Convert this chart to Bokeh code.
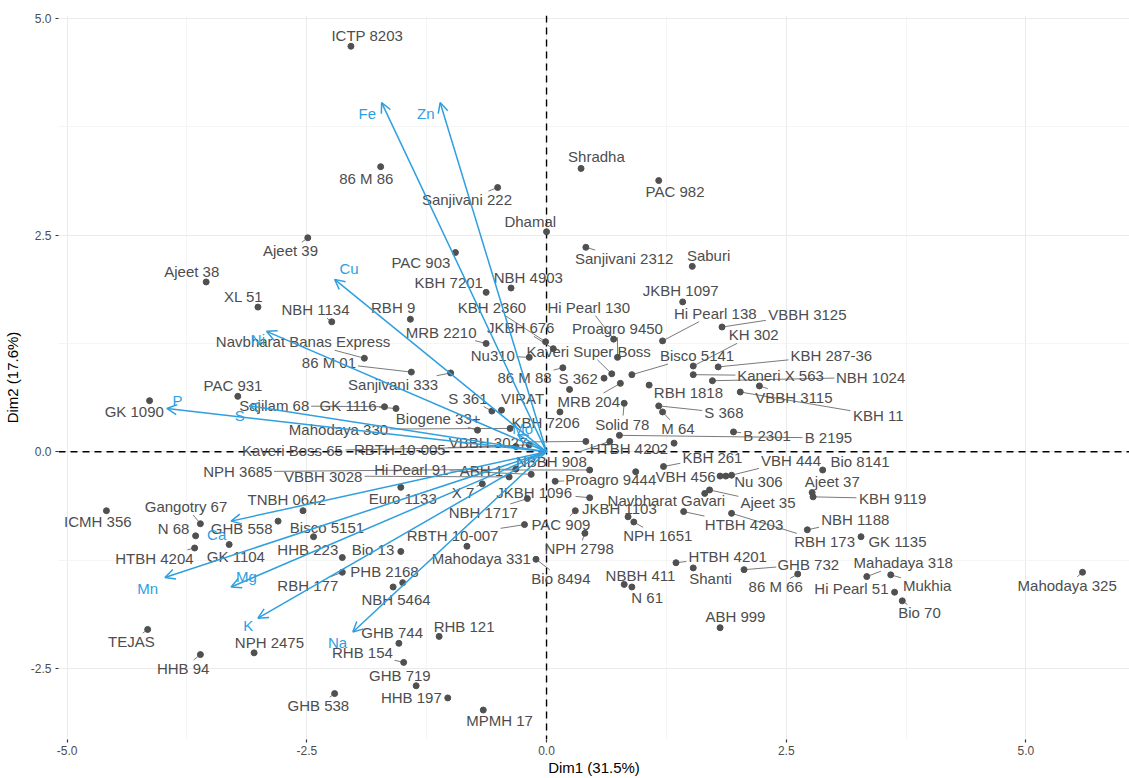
import math
from bokeh.plotting import figure
from bokeh.models import (ColumnDataSource, Arrow, OpenHead, Span, FixedTicker,
                          PrintfTickFormatter, Range1d, LabelSet)
from bokeh.core.properties import value
from bokeh.embed import file_html
from bokeh.resources import INLINE

# ---------------- data ----------------
names = ["ICTP 8203", "86 M 86", "Sanjivani 222", "Dhamal", "Shradha", "PAC 982",
         "Sanjivani 2312", "Saburi", "Ajeet 39", "Ajeet 38", "XL 51", "NBH 1134",
         "RBH 9", "PAC 903", "KBH 7201", "NBH 4903", "MRB 2210", "KBH 2360",
         "Hi Pearl 130", "JKBH 676", "Proagro 9450", "Nu310", "Kaveri Super Boss",
         "Bisco 5141", "86 M 88", "S 362", "MRB 204", "S 361", "VIRAT", "RBH 1818",
         "S 368", "M 64", "Solid 78", "KBH 7206", "Biogene 33+", "Mahodaya 330",
         "VBBH 3027", "Kaveri Boss 65", "RBTH 10-005", "KBH 261", "HTBH 4202",
         "NBBH 908", "B 2301", "B 2195", "VBH 444", "VBH 456", "Nu 306", "Bio 8141",
         "Ajeet 37", "KBH 9119", "Proagro 9444", "Navbharat Gavari", "Ajeet 35",
         "HTBH 4203", "RBH 173", "NBH 1188", "GK 1135", "JKBH 1103", "NPH 1651",
         "JKBH 1096", "NBH 1717", "PAC 909", "RBTH 10-007", "NPH 2798",
         "Mahodaya 331", "Bio 8494", "NBBH 411", "N 61", "HTBH 4201", "Shanti",
         "GHB 732", "86 M 66", "ABH 999", "Hi Pearl 51", "Mahadaya 318", "Mukhia",
         "Bio 70", "Mahodaya 325", "VBBH 3125", "KH 302", "KBH 287-36",
         "Kaneri X 563", "NBH 1024", "VBBH 3115", "KBH 11", "JKBH 1097",
         "Hi Pearl 138", "Navbharat Banas Express", "86 M 01", "Sanjivani 333",
         "PAC 931", "GK 1090", "Sajilam 68", "GK 1116", "NPH 3685", "VBBH 3028",
         "Hi Pearl 91", "ABH 1", "Euro 1133", "X 7", "Gangotry 67", "ICMH 356",
         "N 68", "GHB 558", "HTBH 4204", "GK 1104", "TNBH 0642", "Bisco 5151",
         "HHB 223", "Bio 13", "PHB 2168", "RBH 177", "NBH 5464", "GHB 744",
         "RHB 121", "RHB 154", "GHB 719", "HHB 197", "MPMH 17", "GHB 538", "TEJAS",
         "HHB 94", "NPH 2475", "", ""]

dim1 = [-2.04, -1.73, -0.51, 0.00, 0.36, 1.17,
        0.41, 1.52, -2.49, -3.55, -3.01, -2.24,
        -1.42, -0.95, -0.63, -0.37, -0.63, -0.01,
        0.70, 0.07, 0.74, -0.18, 0.68,
        0.89, 0.17, 0.60, 0.77, -0.57, -0.47, 1.07,
        1.17, 1.21, 0.81, 0.14, -0.72, -0.38,
        0.41, -0.32, -0.18, 1.22, 1.33,
        0.66, 1.95, 0.76, 1.93, 1.81, 1.87, 2.88,
        2.77, 2.78, 0.09, 1.65, 1.70,
        1.43, 1.93, 2.72, 3.28, 0.85, 0.91,
        0.45, -0.20, 0.30, -0.23, 0.40,
        -0.83, -0.11, 0.81, 0.89, 1.35, 1.53,
        2.06, 2.62, 1.81, 3.63, 3.34, 3.59,
        3.71, 5.59, 1.83, 1.53, 1.79,
        1.53, 1.73, 2.22, 2.02, 1.42,
        1.21, -1.90, -1.41, -1.00,
        -3.22, -4.14, -1.69, -1.57, -0.32, -0.39,
        -0.16, 0.45, -1.52, -0.67, -3.61, -4.59,
        -3.66, -2.80, -3.67, -3.31, -2.54, -2.43,
        -2.13, -1.52, -1.50, -2.13, -1.60, -1.54,
        -1.12, -1.49, -1.36, -1.03, -0.66, -2.21, -4.16,
        -3.61, -3.05, 0.24, 0.93]

dim2 = [4.68, 3.29, 3.05, 2.54, 3.27, 3.13,
        2.36, 2.14, 2.47, 1.96, 1.67, 1.50,
        1.53, 2.30, 1.84, 1.89, 1.25, 1.27,
        1.30, 1.19, 1.09, 1.09, 0.90,
        0.89, 0.97, 0.85, 0.79, 0.47, 0.48, 0.77,
        0.53, 0.46, 0.56, 0.46, 0.25, 0.27,
        0.12, 0.06, 0.08, -0.17, 0.10,
        0.12, 0.23, 0.19, -0.27, -0.28, -0.28, -0.21,
        -0.47, -0.52, -0.34, -0.48, -0.44,
        -0.69, -0.71, -0.90, -0.98, -0.75, -0.81,
        -0.53, -0.54, -0.68, -0.84, -0.94,
        -1.09, -1.24, -1.53, -1.56, -1.28, -1.34,
        -1.36, -1.41, -2.03, -1.62, -1.44, -1.42,
        -1.72, -1.39, 1.44, 0.99, 0.98,
        0.89, 0.82, 0.76, 0.69, 1.73,
        1.28, 1.08, 0.92, 0.91,
        0.64, 0.59, 0.52, 0.50, -0.20, -0.29,
        -0.26, -0.21, -0.41, -0.37, -0.83, -0.68,
        -0.97, -0.80, -1.11, -1.07, -0.68, -0.98,
        -1.22, -1.15, -1.51, -1.39, -1.56, -2.21,
        -2.13, -2.43, -2.70, -2.84, -2.98, -2.79, -2.05,
        -2.34, -2.32, 0.72, -0.23]

# where the repelled labels were placed (data units)
label_dim1 = [-1.87, -1.88, -0.83, -0.17, 0.52, 1.34,
              0.81, 1.69, -2.67, -3.70, -3.16, -2.41,
              -1.60, -1.31, -1.02, -0.19, -1.10, -0.57,
              0.44, -0.27, 0.74, -0.56, 0.44,
              1.57, -0.23, 0.33, 0.44, -0.82, -0.25, 1.48,
              1.85, 1.37, 0.79, -0.01, -1.13, -2.17,
              -0.61, -2.65, -1.53, 1.73, 0.86,
              0.05, 2.30, 2.94, 2.55, 1.45, 2.21, 3.27,
              2.98, 3.61, 0.67, 1.25, 2.31,
              2.06, 2.90, 3.22, 3.66, 0.76, 1.16,
              -0.13, -0.66, 0.15, -0.98, 0.34,
              -0.68, 0.15, 0.98, 1.05, 1.89, 1.71,
              2.73, 2.39, 1.97, 3.18, 3.72, 3.97,
              3.89, 5.43, 2.72, 2.16, 2.97,
              2.44, 3.38, 2.58, 3.46, 1.40,
              1.76, -2.54, -2.27, -1.60,
              -3.27, -4.30, -2.84, -2.07, -3.22, -2.33,
              -1.41, -0.68, -1.50, -0.87, -3.76, -4.68,
              -3.89, -3.18, -4.09, -3.24, -2.71, -2.29,
              -2.49, -1.81, -1.69, -2.49, -1.57, -1.61,
              -0.86, -1.92, -1.53, -1.41, -0.49, -2.38, -4.33,
              -3.79, -2.89, 0.24, 0.93]

label_dim2 = [4.80, 3.15, 2.91, 2.66, 3.41, 3.00,
              2.23, 2.26, 2.32, 2.08, 1.79, 1.64,
              1.66, 2.19, 1.95, 2.01, 1.38, 1.67,
              1.67, 1.43, 1.42, 1.11, 1.16,
              1.11, 0.86, 0.85, 0.58, 0.62, 0.61, 0.69,
              0.45, 0.27, 0.32, 0.34, 0.38, 0.26,
              0.11, 0.01, 0.03, -0.06, 0.04,
              -0.11, 0.19, 0.16, -0.10, -0.29, -0.34, -0.11,
              -0.34, -0.54, -0.32, -0.56, -0.59,
              -0.84, -1.04, -0.78, -1.03, -0.65, -0.97,
              -0.47, -0.70, -0.84, -0.97, -1.12,
              -1.23, -1.46, -1.43, -1.68, -1.21, -1.46,
              -1.30, -1.56, -1.90, -1.58, -1.28, -1.54,
              -1.86, -1.54, 1.59, 1.35, 1.11,
              0.88, 0.86, 0.63, 0.42, 1.86,
              1.60, 1.27, 1.03, 0.78,
              0.77, 0.46, 0.53, 0.54, -0.23, -0.28,
              -0.20, -0.21, -0.54, -0.47, -0.63, -0.81,
              -0.89, -0.89, -1.23, -1.21, -0.55, -0.87,
              -1.13, -1.13, -1.38, -1.54, -1.70, -2.08,
              -2.02, -2.32, -2.58, -2.84, -3.10, -2.93, -2.19,
              -2.50, -2.20, 0.72, -0.23]

var_names = ["Fe", "Zn", "Cu", "Ni", "P", "S", "Mo", "Ca", "Mn", "Mg", "K", "Na"]
var_dim1 = [-1.72, -1.11, -2.21, -2.92, -3.96, -3.10, -0.30, -3.29, -3.98, -3.29, -3.01, -2.02]
var_dim2 = [4.03, 4.03, 1.99, 1.39, 0.50, 0.53, 0.20, -0.80, -1.45, -1.56, -1.92, -2.08]
var_label_dim1 = [-1.87, -1.26, -2.06, -3.01, -3.85, -3.20, -0.25, -3.44, -4.16, -3.13, -3.11, -2.18]
var_label_dim2 = [3.90, 3.90, 2.11, 1.30, 0.59, 0.42, 0.27, -0.95, -1.58, -1.44, -2.00, -2.20]

x_ticks = [-5.0, -2.5, 0.0, 2.5, 5.0]
y_ticks = [-2.5, 0.0, 2.5, 5.0]
x_title = "Dim1 (31.5%)"
y_title = "Dim2 (17.6%)"

# ---------------- layout ----------------
W, H = 1129, 778
ML, MR, MT, MB = 57, 0, 15, 36
X0, X1 = -5.09, 6.08
Y0, Y1 = -3.32, 5.035
FONT = "Liberation Sans"
TXT = "#4D4D4D"
BLUE = "#2E9FDF"

p = figure(width=W, height=H, x_range=Range1d(X0, X1), y_range=Range1d(Y0, Y1),
           output_backend="svg", toolbar_location=None,
           min_border_left=ML, min_border_right=MR, min_border_top=MT,
           min_border_bottom=MB)
p.outline_line_color = None
p.background_fill_color = "white"
p.border_fill_color = "white"

def mids(t):
    return [(a + b) / 2 for a, b in zip(t[:-1], t[1:])] + [t[0] - (t[1] - t[0]) / 2, t[-1] + (t[1] - t[0]) / 2]

p.xaxis.ticker = FixedTicker(ticks=x_ticks, minor_ticks=mids(x_ticks))
p.yaxis.ticker = FixedTicker(ticks=y_ticks, minor_ticks=mids(y_ticks))
for ax in (p.xaxis, p.yaxis):
    ax.formatter = PrintfTickFormatter(format="%.1f")
    ax.axis_line_color = None
    ax.major_tick_line_color = "#333333"
    ax.major_tick_line_width = 1.2
    ax.major_tick_in = 0
    ax.major_tick_out = 3
    ax.minor_tick_line_color = None
    ax.major_label_text_font = FONT
    ax.major_label_text_font_size = "12px"
    ax.major_label_text_color = TXT
    ax.axis_label_text_font = FONT
    ax.axis_label_text_font_size = "15px"
    ax.axis_label_text_font_style = "normal"
    ax.axis_label_text_color = "black"
p.xaxis.axis_label = x_title
p.yaxis.axis_label = y_title
p.xaxis.major_label_standoff = 2
p.xaxis.axis_label_standoff = 1
p.yaxis.major_label_standoff = 3
p.yaxis.axis_label_standoff = 7

for g in (p.xgrid, p.ygrid):
    g.grid_line_color = "#EBEBEB"
    g.grid_line_width = 1.1
    g.minor_grid_line_color = "#F3F3F3"
    g.minor_grid_line_width = 0.8

p.add_layout(Span(location=0, dimension="height", line_color="black",
                  line_dash="7 5", line_width=1.4, level="underlay"))
p.add_layout(Span(location=0, dimension="width", line_color="black",
                  line_dash="7 5", line_width=1.4, level="underlay"))

# ---------------- leader segments (point -> label box edge) ----------------
frame_w = W - ML - MR
frame_h = H - MT - 40
sx = frame_w / (X1 - X0)
sy = frame_h / (Y1 - Y0)

def text_w(s, size=15):
    w = 0
    for c in s:
        if c.isdigit():
            w += 556
        elif c == " ":
            w += 278
        elif c in "ijl":
            w += 222
        elif c == "I":
            w += 278
        elif c in "frt":
            w += 300
        elif c in "mM":
            w += 833
        elif c in "-.":
            w += 320
        elif c == "+":
            w += 584
        elif c.isupper():
            w += 690
        else:
            w += 540
    return w * size / 1000.0

seg = dict(x0=[], y0=[], x1=[], y1=[])
for n, x, y, lx, ly in zip(names, dim1, dim2, label_dim1, label_dim2):
    if not n:
        continue
    vx = (x - lx) * sx
    vy = (y - ly) * sy
    hw = text_w(n) / 2 + 2
    hh = 8.5
    if abs(vx) <= hw and abs(vy) <= hh:
        continue
    tx = hw / abs(vx) if vx != 0 else 1e9
    ty = hh / abs(vy) if vy != 0 else 1e9
    t = min(tx, ty)
    length = (1 - t) * math.hypot(vx, vy)
    if length < 6:
        continue
    ex = lx + t * (x - lx)
    ey = ly + t * (y - ly)
    seg["x0"].append(x)
    seg["y0"].append(y)
    seg["x1"].append(ex)
    seg["y1"].append(ey)

p.segment(x0="x0", y0="y0", x1="x1", y1="y1", source=ColumnDataSource(seg),
          line_color="#7A7A7A", line_width=1)

ind = ColumnDataSource(dict(x=dim1, y=dim2, lx=label_dim1, ly=label_dim2, name=names))
p.scatter(x="x", y="y", source=ind, size=6, fill_color="#505050", line_color="#505050")
p.text(x="lx", y="ly", text="name", source=ind, text_align="center",
       text_baseline="middle", text_font=value(FONT), text_font_size="15px",
       text_color=TXT)

# ---------------- variable arrows ----------------
var_src = ColumnDataSource(dict(x0=[0.0] * len(var_names), y0=[0.0] * len(var_names),
                                x1=var_dim1, y1=var_dim2,
                                lx=var_label_dim1, ly=var_label_dim2, name=var_names))
p.add_layout(Arrow(x_start="x0", y_start="y0", x_end="x1", y_end="y1", source=var_src,
                   line_color=BLUE, line_width=1.5,
                   end=OpenHead(size=10, line_color=BLUE, line_width=1.5)))
p.add_layout(LabelSet(x="lx", y="ly", text="name", source=var_src,
                      text_align="center", text_baseline="middle",
                      text_font=value(FONT), text_font_size="15px",
                      text_color=BLUE))

open("out.html", "w").write(file_html(p, INLINE))
